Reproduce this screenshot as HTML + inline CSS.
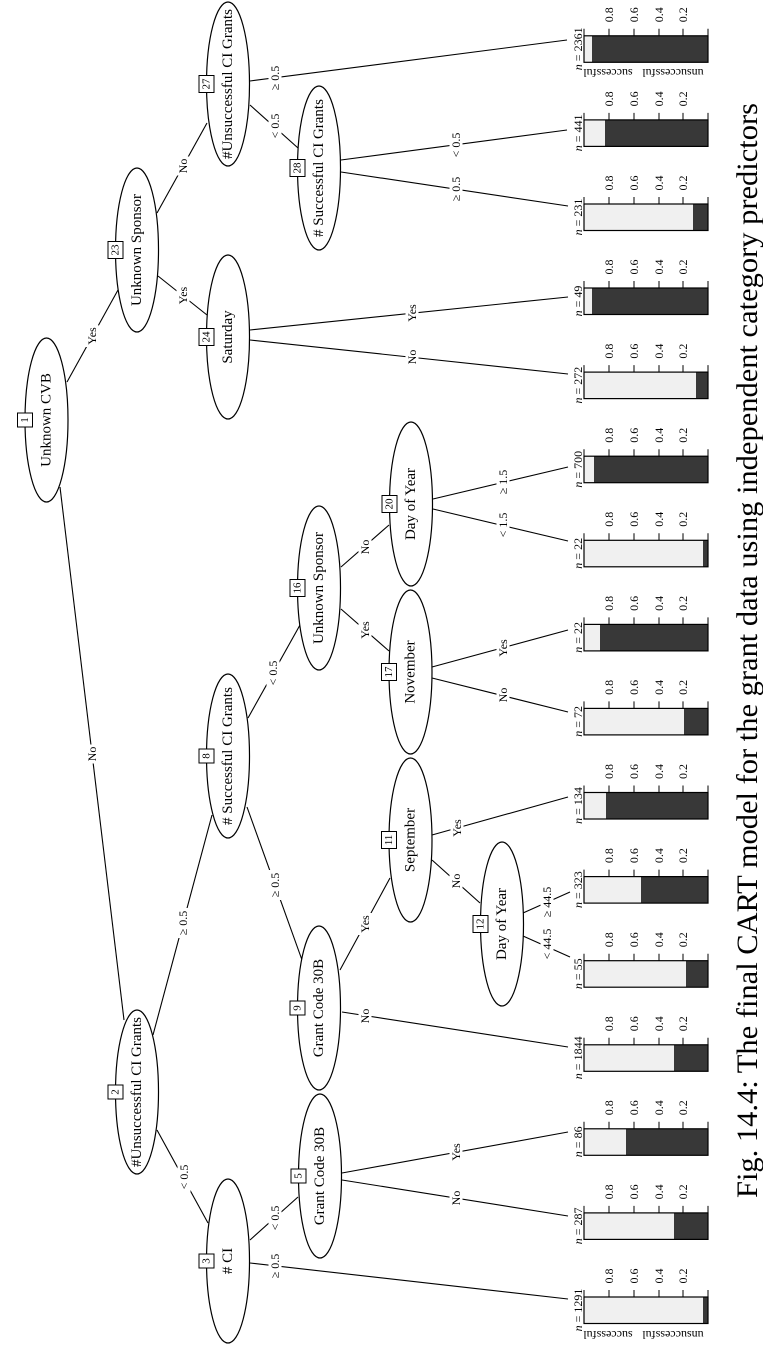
<!DOCTYPE html>
<html>
<head>
<meta charset="utf-8">
<style>
html,body{margin:0;padding:0;background:#fff;}
body{width:763px;height:1355px;overflow:hidden;position:relative;}
svg{position:absolute;left:0;top:0;}
.s{font-family:"Liberation Serif",serif;font-size:12px;text-anchor:middle;dominant-baseline:central;fill:#000;}
.m{font-family:"Liberation Serif",serif;font-size:15px;text-anchor:middle;dominant-baseline:central;fill:#000;}
.b{font-family:"Liberation Serif",serif;font-size:11px;text-anchor:middle;dominant-baseline:central;fill:#000;}
.cap{font-family:"Liberation Serif",serif;font-size:30px;fill:#000;}
</style>
</head>
<body>
<svg width="763" height="1355" viewBox="0 0 763 1355" xmlns="http://www.w3.org/2000/svg">
<!-- edges -->
<g stroke="#000" stroke-width="1.1" fill="none">
<line x1="67" y1="382" x2="118" y2="290"/>
<line x1="60" y1="487" x2="124" y2="1020"/>
<line x1="158" y1="276" x2="207" y2="315"/>
<line x1="157" y1="213" x2="207" y2="123"/>
<line x1="250" y1="81" x2="567" y2="40"/>
<line x1="250" y1="105" x2="298" y2="148"/>
<line x1="341" y1="160" x2="567" y2="130"/>
<line x1="341" y1="172" x2="568" y2="206"/>
<line x1="250" y1="330" x2="568" y2="297"/>
<line x1="250" y1="340" x2="568" y2="374"/>
<line x1="153" y1="1035" x2="212" y2="815"/>
<line x1="157" y1="1130" x2="208" y2="1223"/>
<line x1="250" y1="1240" x2="298" y2="1197"/>
<line x1="250" y1="1263" x2="568" y2="1299"/>
<line x1="342" y1="1173" x2="568" y2="1132"/>
<line x1="342" y1="1180" x2="568" y2="1216"/>
<line x1="247" y1="807" x2="302" y2="960"/>
<line x1="248" y1="718" x2="300" y2="625"/>
<line x1="340" y1="970" x2="390" y2="878"/>
<line x1="342" y1="1012" x2="568" y2="1047"/>
<line x1="432" y1="860" x2="480" y2="903"/>
<line x1="432" y1="835" x2="568" y2="797"/>
<line x1="523" y1="913" x2="570" y2="892"/>
<line x1="523" y1="936" x2="570" y2="957"/>
<line x1="341" y1="567" x2="389" y2="525"/>
<line x1="341" y1="609" x2="389" y2="651"/>
<line x1="432" y1="667" x2="568" y2="630"/>
<line x1="432" y1="678" x2="568" y2="712"/>
<line x1="433" y1="499" x2="568" y2="467"/>
<line x1="433" y1="509" x2="568" y2="541"/>
</g>

<!-- edge label backgrounds -->
<g fill="#fff">
<rect x="85.5" y="325" width="13" height="22"/>
<rect x="85.5" y="744.5" width="13" height="19"/>
<rect x="176.5" y="284.5" width="13" height="22"/>
<rect x="176.5" y="156.5" width="13" height="19"/>
<rect x="268.5" y="63" width="13" height="30"/>
<rect x="268.5" y="111" width="13" height="30"/>
<rect x="449.5" y="130" width="13" height="30"/>
<rect x="449.5" y="174" width="13" height="30"/>
<rect x="405.5" y="302" width="13" height="22"/>
<rect x="405.5" y="347.5" width="13" height="19"/>
<rect x="176.5" y="908" width="13" height="30"/>
<rect x="177.5" y="1162" width="13" height="30"/>
<rect x="268.5" y="1203" width="13" height="30"/>
<rect x="268.5" y="1251" width="13" height="30"/>
<rect x="449.5" y="1141" width="13" height="22"/>
<rect x="449.5" y="1188.5" width="13" height="19"/>
<rect x="268.5" y="870" width="13" height="30"/>
<rect x="266.5" y="658" width="13" height="30"/>
<rect x="358.5" y="913" width="13" height="22"/>
<rect x="358.5" y="1006.5" width="13" height="19"/>
<rect x="449.5" y="871.5" width="13" height="19"/>
<rect x="450.5" y="817" width="13" height="22"/>
<rect x="540.5" y="883" width="13" height="38"/>
<rect x="540.5" y="925" width="13" height="38"/>
<rect x="358.5" y="537.5" width="13" height="19"/>
<rect x="358.5" y="619" width="13" height="22"/>
<rect x="496.5" y="637" width="13" height="22"/>
<rect x="496.5" y="685.5" width="13" height="19"/>
<rect x="496.5" y="467" width="13" height="30"/>
<rect x="496.5" y="510" width="13" height="30"/>
</g>

<!-- edge labels -->
<g>
<text class="s" transform="translate(92,336) rotate(-90)">Yes</text>
<text class="s" transform="translate(92,754) rotate(-90)">No</text>
<text class="s" transform="translate(183,295.5) rotate(-90)">Yes</text>
<text class="s" transform="translate(183,166) rotate(-90)">No</text>
<text class="s" transform="translate(275,78) rotate(-90)">≥ 0.5</text>
<text class="s" transform="translate(275,126) rotate(-90)">&lt; 0.5</text>
<text class="s" transform="translate(456,145) rotate(-90)">&lt; 0.5</text>
<text class="s" transform="translate(456,189) rotate(-90)">≥ 0.5</text>
<text class="s" transform="translate(412,313) rotate(-90)">Yes</text>
<text class="s" transform="translate(412,357) rotate(-90)">No</text>
<text class="s" transform="translate(183,923) rotate(-90)">≥ 0.5</text>
<text class="s" transform="translate(184,1177) rotate(-90)">&lt; 0.5</text>
<text class="s" transform="translate(275,1218) rotate(-90)">&lt; 0.5</text>
<text class="s" transform="translate(275,1266) rotate(-90)">≥ 0.5</text>
<text class="s" transform="translate(456,1152) rotate(-90)">Yes</text>
<text class="s" transform="translate(456,1198) rotate(-90)">No</text>
<text class="s" transform="translate(275,885) rotate(-90)">≥ 0.5</text>
<text class="s" transform="translate(273,673) rotate(-90)">&lt; 0.5</text>
<text class="s" transform="translate(365,924) rotate(-90)">Yes</text>
<text class="s" transform="translate(365,1016) rotate(-90)">No</text>
<text class="s" transform="translate(456,881) rotate(-90)">No</text>
<text class="s" transform="translate(457,828) rotate(-90)">Yes</text>
<text class="s" transform="translate(547,902) rotate(-90)">≥ 44.5</text>
<text class="s" transform="translate(547,944) rotate(-90)">&lt; 44.5</text>
<text class="s" transform="translate(365,547) rotate(-90)">No</text>
<text class="s" transform="translate(365,630) rotate(-90)">Yes</text>
<text class="s" transform="translate(503,648) rotate(-90)">Yes</text>
<text class="s" transform="translate(503,695) rotate(-90)">No</text>
<text class="s" transform="translate(503,482) rotate(-90)">≥ 1.5</text>
<text class="s" transform="translate(503,525) rotate(-90)">&lt; 1.5</text>
</g>

<!-- inner nodes -->
<g stroke="#000" stroke-width="1.2" fill="#fff">
<ellipse cx="46.5" cy="420" rx="21.5" ry="82"/>
<ellipse cx="137" cy="1092" rx="21.5" ry="82"/>
<ellipse cx="228" cy="1261" rx="21.5" ry="82"/>
<ellipse cx="320" cy="1176" rx="21.5" ry="82"/>
<ellipse cx="228" cy="756" rx="21.5" ry="82"/>
<ellipse cx="319" cy="1008" rx="21.5" ry="82"/>
<ellipse cx="410.5" cy="840" rx="21.5" ry="82"/>
<ellipse cx="502" cy="924" rx="21.5" ry="82"/>
<ellipse cx="319" cy="588" rx="21.5" ry="82"/>
<ellipse cx="410.5" cy="672" rx="21.5" ry="82"/>
<ellipse cx="411" cy="504" rx="21.5" ry="82"/>
<ellipse cx="137" cy="250" rx="21.5" ry="82"/>
<ellipse cx="228" cy="337" rx="21.5" ry="82"/>
<ellipse cx="228" cy="84" rx="21.5" ry="82"/>
<ellipse cx="319" cy="168" rx="21.5" ry="82"/>
</g>
<g>
<text class="m" transform="translate(46.5,420) rotate(-90)">Unknown CVB</text>
<text class="m" transform="translate(137,1092) rotate(-90)">#Unsuccessful CI Grants</text>
<text class="m" transform="translate(228,1261) rotate(-90)"># CI</text>
<text class="m" transform="translate(320,1176) rotate(-90)">Grant Code 30B</text>
<text class="m" transform="translate(228,756) rotate(-90)"># Successful CI Grants</text>
<text class="m" transform="translate(319,1008) rotate(-90)">Grant Code 30B</text>
<text class="m" transform="translate(410.5,840) rotate(-90)">September</text>
<text class="m" transform="translate(502,924) rotate(-90)">Day of Year</text>
<text class="m" transform="translate(319,588) rotate(-90)">Unknown Sponsor</text>
<text class="m" transform="translate(410.5,672) rotate(-90)">November</text>
<text class="m" transform="translate(411,504) rotate(-90)">Day of Year</text>
<text class="m" transform="translate(137,250) rotate(-90)">Unknown Sponsor</text>
<text class="m" transform="translate(228,337) rotate(-90)">Saturday</text>
<text class="m" transform="translate(228,84) rotate(-90)">#Unsuccessful CI Grants</text>
<text class="m" transform="translate(319,168) rotate(-90)"># Successful CI Grants</text>
</g>

<!-- node id boxes -->
<g stroke="#000" stroke-width="1" fill="#fff">
<rect x="17.5" y="413" width="15" height="14"/>
<rect x="108" y="1085" width="15" height="14"/>
<rect x="199" y="1254" width="15" height="14"/>
<rect x="291" y="1169" width="15" height="14"/>
<rect x="199" y="749" width="15" height="14"/>
<rect x="290" y="1001" width="15" height="14"/>
<rect x="381.5" y="831.5" width="15" height="17"/>
<rect x="473" y="915.5" width="15" height="17"/>
<rect x="290" y="579.5" width="15" height="17"/>
<rect x="381.5" y="663.5" width="15" height="17"/>
<rect x="382" y="495.5" width="15" height="17"/>
<rect x="108" y="241.5" width="15" height="17"/>
<rect x="199" y="328.5" width="15" height="17"/>
<rect x="199" y="75.5" width="15" height="17"/>
<rect x="290" y="159.5" width="15" height="17"/>
</g>
<g>
<text class="b" transform="translate(25,420) rotate(-90)">1</text>
<text class="b" transform="translate(115.5,1092) rotate(-90)">2</text>
<text class="b" transform="translate(206.5,1261) rotate(-90)">3</text>
<text class="b" transform="translate(298.5,1176) rotate(-90)">5</text>
<text class="b" transform="translate(206.5,756) rotate(-90)">8</text>
<text class="b" transform="translate(297.5,1008) rotate(-90)">9</text>
<text class="b" transform="translate(389,840) rotate(-90)">11</text>
<text class="b" transform="translate(480.5,924) rotate(-90)">12</text>
<text class="b" transform="translate(297.5,588) rotate(-90)">16</text>
<text class="b" transform="translate(389,672) rotate(-90)">17</text>
<text class="b" transform="translate(389.5,504) rotate(-90)">20</text>
<text class="b" transform="translate(115.5,250) rotate(-90)">23</text>
<text class="b" transform="translate(206.5,337) rotate(-90)">24</text>
<text class="b" transform="translate(206.5,84) rotate(-90)">27</text>
<text class="b" transform="translate(297.5,168) rotate(-90)">28</text>
</g>

<!-- leaves -->
<g id="leaves">
<g transform="translate(0,35.8)">
<rect x="584" y="0" width="124" height="26.5" fill="#383838"/><rect x="584" y="0" width="8" height="26.5" fill="#f0f0f0"/><rect x="584" y="0" width="124" height="26.5" fill="none" stroke="#000" stroke-width="1.2"/>
<path d="M584 0V-7M609 0V-7M634 0V-7M659 0V-7M683 0V-7M708 0V-7" stroke="#000"/>
<text class="s" transform="translate(609,-21) rotate(-90)">0.8</text><text class="s" transform="translate(634,-21) rotate(-90)">0.6</text><text class="s" transform="translate(659,-21) rotate(-90)">0.4</text><text class="s" transform="translate(683,-21) rotate(-90)">0.2</text>
<text class="s" transform="translate(578,13) rotate(-90)"><tspan font-style="italic">n</tspan> = 2361</text>
<text class="s" transform="translate(608,37) rotate(180)">successful</text><text class="s" transform="translate(673,37) rotate(180)">unsuccessful</text>
</g>
<g transform="translate(0,119.9)">
<rect x="584" y="0" width="124" height="26.5" fill="#383838"/><rect x="584" y="0" width="21" height="26.5" fill="#f0f0f0"/><rect x="584" y="0" width="124" height="26.5" fill="none" stroke="#000" stroke-width="1.2"/>
<path d="M584 0V-7M609 0V-7M634 0V-7M659 0V-7M683 0V-7M708 0V-7" stroke="#000"/>
<text class="s" transform="translate(609,-21) rotate(-90)">0.8</text><text class="s" transform="translate(634,-21) rotate(-90)">0.6</text><text class="s" transform="translate(659,-21) rotate(-90)">0.4</text><text class="s" transform="translate(683,-21) rotate(-90)">0.2</text>
<text class="s" transform="translate(578,13) rotate(-90)"><tspan font-style="italic">n</tspan> = 441</text>
</g>
<g transform="translate(0,204)">
<rect x="584" y="0" width="124" height="26.5" fill="#383838"/><rect x="584" y="0" width="109" height="26.5" fill="#f0f0f0"/><rect x="584" y="0" width="124" height="26.5" fill="none" stroke="#000" stroke-width="1.2"/>
<path d="M584 0V-7M609 0V-7M634 0V-7M659 0V-7M683 0V-7M708 0V-7" stroke="#000"/>
<text class="s" transform="translate(609,-21) rotate(-90)">0.8</text><text class="s" transform="translate(634,-21) rotate(-90)">0.6</text><text class="s" transform="translate(659,-21) rotate(-90)">0.4</text><text class="s" transform="translate(683,-21) rotate(-90)">0.2</text>
<text class="s" transform="translate(578,13) rotate(-90)"><tspan font-style="italic">n</tspan> = 231</text>
</g>
<g transform="translate(0,288)">
<rect x="584" y="0" width="124" height="26.5" fill="#383838"/><rect x="584" y="0" width="8" height="26.5" fill="#f0f0f0"/><rect x="584" y="0" width="124" height="26.5" fill="none" stroke="#000" stroke-width="1.2"/>
<path d="M584 0V-7M609 0V-7M634 0V-7M659 0V-7M683 0V-7M708 0V-7" stroke="#000"/>
<text class="s" transform="translate(609,-21) rotate(-90)">0.8</text><text class="s" transform="translate(634,-21) rotate(-90)">0.6</text><text class="s" transform="translate(659,-21) rotate(-90)">0.4</text><text class="s" transform="translate(683,-21) rotate(-90)">0.2</text>
<text class="s" transform="translate(578,13) rotate(-90)"><tspan font-style="italic">n</tspan> = 49</text>
</g>
<g transform="translate(0,372.1)">
<rect x="584" y="0" width="124" height="26.5" fill="#383838"/><rect x="584" y="0" width="112" height="26.5" fill="#f0f0f0"/><rect x="584" y="0" width="124" height="26.5" fill="none" stroke="#000" stroke-width="1.2"/>
<path d="M584 0V-7M609 0V-7M634 0V-7M659 0V-7M683 0V-7M708 0V-7" stroke="#000"/>
<text class="s" transform="translate(609,-21) rotate(-90)">0.8</text><text class="s" transform="translate(634,-21) rotate(-90)">0.6</text><text class="s" transform="translate(659,-21) rotate(-90)">0.4</text><text class="s" transform="translate(683,-21) rotate(-90)">0.2</text>
<text class="s" transform="translate(578,13) rotate(-90)"><tspan font-style="italic">n</tspan> = 272</text>
</g>
<g transform="translate(0,456.2)">
<rect x="584" y="0" width="124" height="26.5" fill="#383838"/><rect x="584" y="0" width="10" height="26.5" fill="#f0f0f0"/><rect x="584" y="0" width="124" height="26.5" fill="none" stroke="#000" stroke-width="1.2"/>
<path d="M584 0V-7M609 0V-7M634 0V-7M659 0V-7M683 0V-7M708 0V-7" stroke="#000"/>
<text class="s" transform="translate(609,-21) rotate(-90)">0.8</text><text class="s" transform="translate(634,-21) rotate(-90)">0.6</text><text class="s" transform="translate(659,-21) rotate(-90)">0.4</text><text class="s" transform="translate(683,-21) rotate(-90)">0.2</text>
<text class="s" transform="translate(578,13) rotate(-90)"><tspan font-style="italic">n</tspan> = 700</text>
</g>
<g transform="translate(0,540.3)">
<rect x="584" y="0" width="124" height="26.5" fill="#383838"/><rect x="584" y="0" width="119" height="26.5" fill="#f0f0f0"/><rect x="584" y="0" width="124" height="26.5" fill="none" stroke="#000" stroke-width="1.2"/>
<path d="M584 0V-7M609 0V-7M634 0V-7M659 0V-7M683 0V-7M708 0V-7" stroke="#000"/>
<text class="s" transform="translate(609,-21) rotate(-90)">0.8</text><text class="s" transform="translate(634,-21) rotate(-90)">0.6</text><text class="s" transform="translate(659,-21) rotate(-90)">0.4</text><text class="s" transform="translate(683,-21) rotate(-90)">0.2</text>
<text class="s" transform="translate(578,13) rotate(-90)"><tspan font-style="italic">n</tspan> = 22</text>
</g>
<g transform="translate(0,624.4)">
<rect x="584" y="0" width="124" height="26.5" fill="#383838"/><rect x="584" y="0" width="16" height="26.5" fill="#f0f0f0"/><rect x="584" y="0" width="124" height="26.5" fill="none" stroke="#000" stroke-width="1.2"/>
<path d="M584 0V-7M609 0V-7M634 0V-7M659 0V-7M683 0V-7M708 0V-7" stroke="#000"/>
<text class="s" transform="translate(609,-21) rotate(-90)">0.8</text><text class="s" transform="translate(634,-21) rotate(-90)">0.6</text><text class="s" transform="translate(659,-21) rotate(-90)">0.4</text><text class="s" transform="translate(683,-21) rotate(-90)">0.2</text>
<text class="s" transform="translate(578,13) rotate(-90)"><tspan font-style="italic">n</tspan> = 22</text>
</g>
<g transform="translate(0,708.4)">
<rect x="584" y="0" width="124" height="26.5" fill="#383838"/><rect x="584" y="0" width="100" height="26.5" fill="#f0f0f0"/><rect x="584" y="0" width="124" height="26.5" fill="none" stroke="#000" stroke-width="1.2"/>
<path d="M584 0V-7M609 0V-7M634 0V-7M659 0V-7M683 0V-7M708 0V-7" stroke="#000"/>
<text class="s" transform="translate(609,-21) rotate(-90)">0.8</text><text class="s" transform="translate(634,-21) rotate(-90)">0.6</text><text class="s" transform="translate(659,-21) rotate(-90)">0.4</text><text class="s" transform="translate(683,-21) rotate(-90)">0.2</text>
<text class="s" transform="translate(578,13) rotate(-90)"><tspan font-style="italic">n</tspan> = 72</text>
</g>
<g transform="translate(0,792.5)">
<rect x="584" y="0" width="124" height="26.5" fill="#383838"/><rect x="584" y="0" width="22" height="26.5" fill="#f0f0f0"/><rect x="584" y="0" width="124" height="26.5" fill="none" stroke="#000" stroke-width="1.2"/>
<path d="M584 0V-7M609 0V-7M634 0V-7M659 0V-7M683 0V-7M708 0V-7" stroke="#000"/>
<text class="s" transform="translate(609,-21) rotate(-90)">0.8</text><text class="s" transform="translate(634,-21) rotate(-90)">0.6</text><text class="s" transform="translate(659,-21) rotate(-90)">0.4</text><text class="s" transform="translate(683,-21) rotate(-90)">0.2</text>
<text class="s" transform="translate(578,13) rotate(-90)"><tspan font-style="italic">n</tspan> = 134</text>
</g>
<g transform="translate(0,876.6)">
<rect x="584" y="0" width="124" height="26.5" fill="#383838"/><rect x="584" y="0" width="57" height="26.5" fill="#f0f0f0"/><rect x="584" y="0" width="124" height="26.5" fill="none" stroke="#000" stroke-width="1.2"/>
<path d="M584 0V-7M609 0V-7M634 0V-7M659 0V-7M683 0V-7M708 0V-7" stroke="#000"/>
<text class="s" transform="translate(609,-21) rotate(-90)">0.8</text><text class="s" transform="translate(634,-21) rotate(-90)">0.6</text><text class="s" transform="translate(659,-21) rotate(-90)">0.4</text><text class="s" transform="translate(683,-21) rotate(-90)">0.2</text>
<text class="s" transform="translate(578,13) rotate(-90)"><tspan font-style="italic">n</tspan> = 323</text>
</g>
<g transform="translate(0,960.7)">
<rect x="584" y="0" width="124" height="26.5" fill="#383838"/><rect x="584" y="0" width="102" height="26.5" fill="#f0f0f0"/><rect x="584" y="0" width="124" height="26.5" fill="none" stroke="#000" stroke-width="1.2"/>
<path d="M584 0V-7M609 0V-7M634 0V-7M659 0V-7M683 0V-7M708 0V-7" stroke="#000"/>
<text class="s" transform="translate(609,-21) rotate(-90)">0.8</text><text class="s" transform="translate(634,-21) rotate(-90)">0.6</text><text class="s" transform="translate(659,-21) rotate(-90)">0.4</text><text class="s" transform="translate(683,-21) rotate(-90)">0.2</text>
<text class="s" transform="translate(578,13) rotate(-90)"><tspan font-style="italic">n</tspan> = 55</text>
</g>
<g transform="translate(0,1044.8)">
<rect x="584" y="0" width="124" height="26.5" fill="#383838"/><rect x="584" y="0" width="90" height="26.5" fill="#f0f0f0"/><rect x="584" y="0" width="124" height="26.5" fill="none" stroke="#000" stroke-width="1.2"/>
<path d="M584 0V-7M609 0V-7M634 0V-7M659 0V-7M683 0V-7M708 0V-7" stroke="#000"/>
<text class="s" transform="translate(609,-21) rotate(-90)">0.8</text><text class="s" transform="translate(634,-21) rotate(-90)">0.6</text><text class="s" transform="translate(659,-21) rotate(-90)">0.4</text><text class="s" transform="translate(683,-21) rotate(-90)">0.2</text>
<text class="s" transform="translate(578,13) rotate(-90)"><tspan font-style="italic">n</tspan> = 1844</text>
</g>
<g transform="translate(0,1128.8)">
<rect x="584" y="0" width="124" height="26.5" fill="#383838"/><rect x="584" y="0" width="42" height="26.5" fill="#f0f0f0"/><rect x="584" y="0" width="124" height="26.5" fill="none" stroke="#000" stroke-width="1.2"/>
<path d="M584 0V-7M609 0V-7M634 0V-7M659 0V-7M683 0V-7M708 0V-7" stroke="#000"/>
<text class="s" transform="translate(609,-21) rotate(-90)">0.8</text><text class="s" transform="translate(634,-21) rotate(-90)">0.6</text><text class="s" transform="translate(659,-21) rotate(-90)">0.4</text><text class="s" transform="translate(683,-21) rotate(-90)">0.2</text>
<text class="s" transform="translate(578,13) rotate(-90)"><tspan font-style="italic">n</tspan> = 86</text>
</g>
<g transform="translate(0,1212.9)">
<rect x="584" y="0" width="124" height="26.5" fill="#383838"/><rect x="584" y="0" width="90" height="26.5" fill="#f0f0f0"/><rect x="584" y="0" width="124" height="26.5" fill="none" stroke="#000" stroke-width="1.2"/>
<path d="M584 0V-7M609 0V-7M634 0V-7M659 0V-7M683 0V-7M708 0V-7" stroke="#000"/>
<text class="s" transform="translate(609,-21) rotate(-90)">0.8</text><text class="s" transform="translate(634,-21) rotate(-90)">0.6</text><text class="s" transform="translate(659,-21) rotate(-90)">0.4</text><text class="s" transform="translate(683,-21) rotate(-90)">0.2</text>
<text class="s" transform="translate(578,13) rotate(-90)"><tspan font-style="italic">n</tspan> = 287</text>
</g>
<g transform="translate(0,1297)">
<rect x="584" y="0" width="124" height="26.5" fill="#383838"/><rect x="584" y="0" width="119" height="26.5" fill="#f0f0f0"/><rect x="584" y="0" width="124" height="26.5" fill="none" stroke="#000" stroke-width="1.2"/>
<path d="M584 0V-7M609 0V-7M634 0V-7M659 0V-7M683 0V-7M708 0V-7" stroke="#000"/>
<text class="s" transform="translate(609,-21) rotate(-90)">0.8</text><text class="s" transform="translate(634,-21) rotate(-90)">0.6</text><text class="s" transform="translate(659,-21) rotate(-90)">0.4</text><text class="s" transform="translate(683,-21) rotate(-90)">0.2</text>
<text class="s" transform="translate(578,13) rotate(-90)"><tspan font-style="italic">n</tspan> = 1291</text>
<text class="s" transform="translate(608,38) rotate(180)">successful</text><text class="s" transform="translate(673,38) rotate(180)">unsuccessful</text>
</g>
</g>

<!-- caption -->
<text class="cap" font-family="Liberation Serif, serif" transform="translate(757,1198) rotate(-90)" textLength="1095" lengthAdjust="spacingAndGlyphs">Fig. 14.4: The final CART model for the grant data using independent category predictors</text>
</svg>
</body>
</html>
